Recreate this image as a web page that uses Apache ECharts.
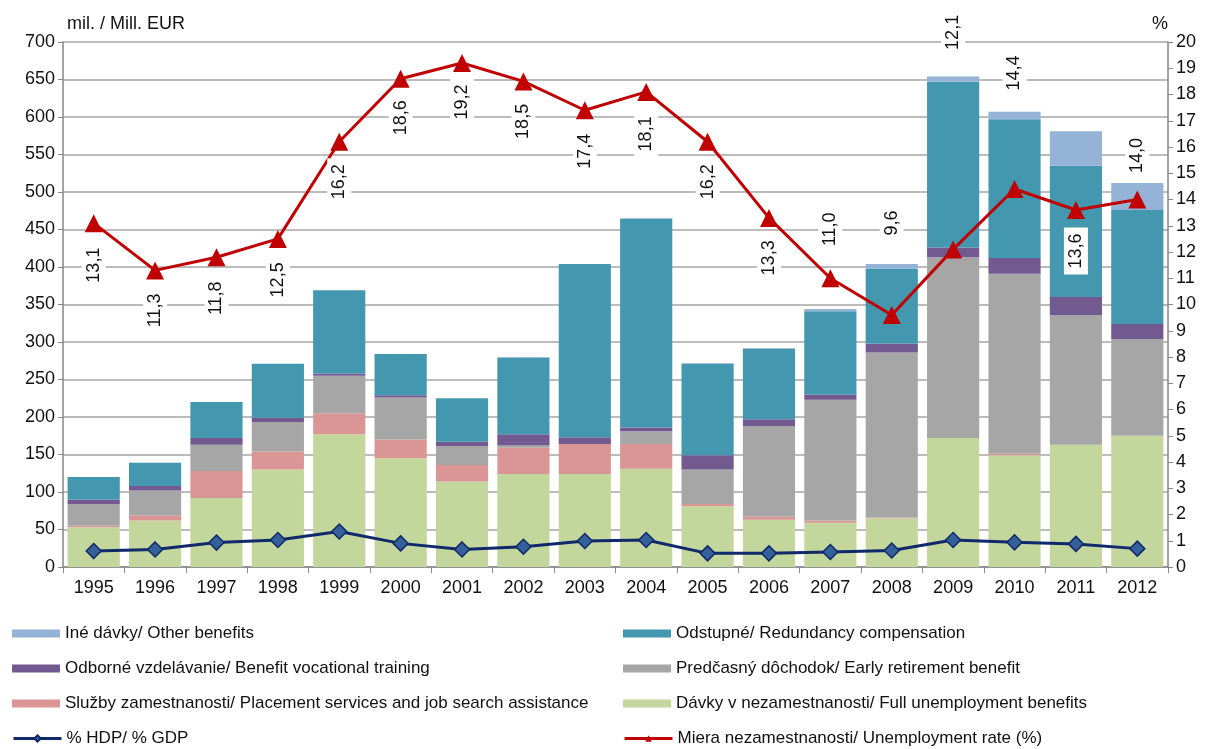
<!DOCTYPE html>
<html>
<head>
<meta charset="utf-8">
<script src="https://cdn.jsdelivr.net/npm/echarts@6/dist/echarts.min.js"></script>
<style>
  html, body { margin: 0; padding: 0; background: #fff; }
  #chart { width: 1214px; height: 749px; }
</style>
</head>
<body>
<div id="chart"></div>
<script>
  // roky
  const years = ['1995', '1996', '1997', '1998', '1999', '2000', '2001', '2002', '2003',
    '2004', '2005', '2006', '2007', '2008', '2009', '2010', '2011', '2012']

  // mil. EUR
  const fullBenefits = [53, 62, 92, 130, 177, 145, 114, 124, 124, 131, 81, 63, 59, 65, 172, 149, 163, 175]
  const placement = [2, 7, 36, 24, 28, 25, 22, 35, 40, 33, 3, 4, 3, 1, 0, 2, 0, 0]
  const earlyRetirement = [29, 33, 35, 39, 50, 56, 25, 3, 0, 17, 46, 121, 161, 220, 241, 240, 173, 129]
  const vocational = [6, 6, 9, 6, 3, 3, 6, 15, 9, 5, 19, 9, 7, 12, 13, 21, 24, 20]
  const redundancy = [30, 31, 48, 72, 111, 55, 58, 102, 231, 278, 122, 94, 111, 100, 221, 185, 175, 152]
  const otherBenefits = [0, 0, 0, 0, 0, 0, 0, 1, 0, 1, 1, 1, 3, 6, 7, 10, 46, 36]

  // %
  const gdpShare = [0.61, 0.67, 0.93, 1.03, 1.35, 0.90, 0.67, 0.77, 0.99, 1.03, 0.52, 0.52, 0.57, 0.63, 1.03, 0.94, 0.88, 0.70]
  const unempRate = [13.1, 11.3, 11.8, 12.5, 16.2, 18.6, 19.2, 18.5, 17.4, 18.1, 16.2, 13.3, 11.0, 9.6, 12.1, 14.4, 13.6, 14.0]

  // posun popisov (px, kladne = dole)
  const labelShift = [42, 40, 41, 41, 40, 39, 39, 40, 41, 42, 40, 40, -49, -92, -217, -116, 41, -44]

  const font = "'Liberation Sans', Arial, sans-serif"

  const names = {
    other: 'Iné dávky/ Other benefits',
    redund: 'Odstupné/ Redundancy compensation',
    voc: 'Odborné vzdelávanie/ Benefit vocational training',
    early: 'Predčasný dôchodok/ Early retirement benefit',
    place: 'Služby zamestnanosti/ Placement services and job search assistance',
    full: 'Dávky v nezamestnanosti/ Full unemployment benefits',
    gdp: '% HDP/ % GDP',
    unemp: 'Miera nezamestnanosti/ Unemployment rate (%)'
  }

  const barSeries = (name, data, color) => ({
    name: name,
    type: 'bar',
    stack: 'total',
    barCategoryGap: '15%',
    itemStyle: { color: color },
    data: data
  })

  // legenda - 4 riadky, 2 stlpce
  const legendItem = (name, left, top, isBar) => ({
    left: left,
    top: top,
    itemWidth: 48,
    itemHeight: 8,
    lineStyle: { width: 3 },
    textStyle: { fontFamily: font, fontSize: 17, color: '#111' },
    data: [isBar ? { name: name, icon: 'rect' } : { name: name }]
  })

  const chart = echarts.init(document.getElementById('chart'))

  let option = {
    animation: false,
    textStyle: { fontFamily: font },
    grid: { left: 63, right: 46, top: 42, bottom: 182 },
    legend: [
      legendItem(names.other, 7, 620, true),
      legendItem(names.voc, 7, 655, true),
      legendItem(names.place, 7, 690, true),
      legendItem(names.gdp, 7, 725, false),
      legendItem(names.redund, 618, 620, true),
      legendItem(names.early, 618, 655, true),
      legendItem(names.full, 618, 690, true),
      legendItem(names.unemp, 618, 725, false)
    ],
    xAxis: {
      type: 'category',
      data: years,
      axisLine: { lineStyle: { color: '#868686', width: 1.5 } },
      axisTick: { show: true, length: 6, lineStyle: { color: '#868686' } },
      axisLabel: { fontSize: 18, color: '#111', margin: 12 }
    },
    yAxis: [
      {
        type: 'value',
        min: 0,
        max: 700,
        interval: 50,
        name: 'mil. / Mill. EUR',
        nameGap: 9,
        nameTextStyle: { fontSize: 18, color: '#111', align: 'left', padding: [0, 0, 0, 4] },
        axisLine: { show: true, lineStyle: { color: '#868686', width: 1.5 } },
        axisTick: { show: true, length: 5, lineStyle: { color: '#868686' } },
        axisLabel: { fontSize: 18, color: '#111', margin: 8 },
        splitLine: { lineStyle: { color: '#a6a6a6', width: 1.5 } }
      },
      {
        type: 'value',
        min: 0,
        max: 20,
        interval: 1,
        name: '%',
        nameGap: 9,
        nameTextStyle: { fontSize: 18, color: '#111', align: 'right' },
        axisLine: { show: true, lineStyle: { color: '#868686', width: 1.5 } },
        axisTick: { show: true, length: 5, lineStyle: { color: '#868686' } },
        axisLabel: { fontSize: 18, color: '#111', margin: 8 },
        splitLine: { show: false }
      }
    ],
    series: [
      barSeries(names.full, fullBenefits, '#c3d69b'),
      barSeries(names.place, placement, '#d99694'),
      barSeries(names.early, earlyRetirement, '#a6a6a6'),
      barSeries(names.voc, vocational, '#72598f'),
      barSeries(names.redund, redundancy, '#4397af'),
      barSeries(names.other, otherBenefits, '#95b3d7'),
      {
        name: names.gdp,
        type: 'line',
        yAxisIndex: 1,
        symbol: 'diamond',
        symbolSize: 15,
        lineStyle: { color: '#10296a', width: 3 },
        itemStyle: { color: '#35609a', borderColor: '#10296a', borderWidth: 1.5 },
        data: gdpShare
      },
      {
        name: names.unemp,
        type: 'line',
        yAxisIndex: 1,
        symbol: 'triangle',
        symbolSize: 18,
        lineStyle: { color: '#c00000', width: 3 },
        itemStyle: { color: '#c00000' },
        z: 5,
        data: unempRate.map((v, i) => ({
          value: v,
          label: {
            show: true,
            position: 'inside',
            rotate: 90,
            offset: [-labelShift[i], 0],
            fontSize: 18,
            color: '#111',
            backgroundColor: '#fff',
            padding: [3, 6],
            formatter: () => v.toFixed(1).replace('.', ',')
          }
        }))
      }
    ]
  }
  option && chart.setOption(option)
</script>
</body>
</html>
